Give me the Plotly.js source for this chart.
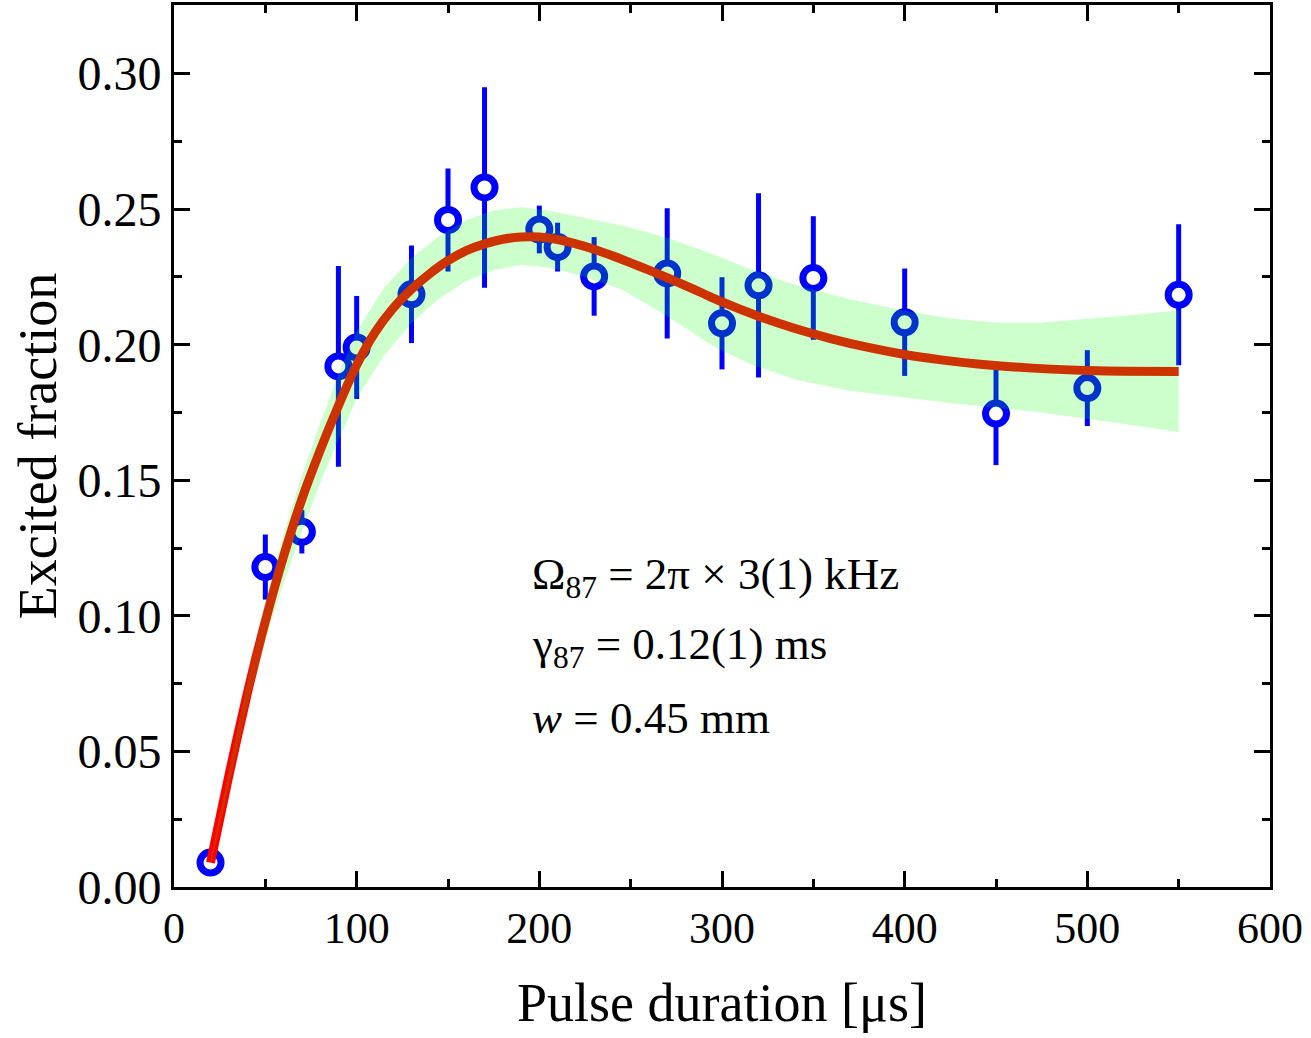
<!DOCTYPE html>
<html>
<head>
<meta charset="utf-8">
<script src="https://cdn.plot.ly/plotly-3.0.1.min.js"></script>
<style>
  html, body { margin: 0; padding: 0; background: #fff; }
  #chart { width: 1311px; height: 1038px; }
</style>
</head>
<body>
<div id="chart"></div>
<script>
// Measured excited fraction vs. pulse duration
const pulseUs = [20, 50, 70, 90, 100, 130, 150, 170, 200, 210, 230, 270, 300, 320, 350, 400, 450, 500, 550];
const excited = [0.009, 0.118, 0.131, 0.192, 0.199, 0.2186, 0.246, 0.258, 0.2425, 0.236, 0.2252, 0.2263, 0.2079, 0.2219, 0.2246, 0.2083, 0.1746, 0.184, 0.2184];
const excitedErr = [0.002, 0.012, 0.008, 0.037, 0.019, 0.018, 0.019, 0.037, 0.0088, 0.009, 0.0145, 0.024, 0.017, 0.034, 0.0228, 0.0198, 0.019, 0.014, 0.026];

// Fitted model curve
const fitX = [20, 30, 40, 50, 60, 70, 80, 90, 100, 110, 120, 130, 140, 150, 160, 170, 180, 190, 200, 210, 220, 230, 240, 250, 260, 270, 280, 290, 300, 320, 340, 360, 380, 400, 420, 440, 460, 480, 500, 520, 550];
const fitY = [0.009, 0.041, 0.071, 0.098, 0.122, 0.143, 0.161, 0.1775, 0.1925, 0.2045, 0.2135, 0.2205, 0.2262, 0.2310, 0.2347, 0.2372, 0.2389, 0.2397, 0.2397, 0.2388, 0.2372, 0.2352, 0.2328, 0.2302, 0.2275, 0.2247, 0.2218, 0.2188, 0.2158, 0.2105, 0.2060, 0.2022, 0.1990, 0.1964, 0.1944, 0.1929, 0.1918, 0.1910, 0.1905, 0.1902, 0.1901];

// Confidence band of the fit
const bandX = [20, 30, 40, 50, 60, 70, 80, 90, 100, 115, 130, 145, 160, 175, 190, 205, 220, 245, 270, 295, 315, 340, 370, 400, 425, 450, 475, 500, 525, 550];
const bandUpper = [0.010, 0.043, 0.076, 0.105, 0.130, 0.152, 0.171, 0.189, 0.205, 0.221, 0.232, 0.240, 0.246, 0.2495, 0.2507, 0.2495, 0.2475, 0.244, 0.2395, 0.2335, 0.2280, 0.2220, 0.2168, 0.2125, 0.2097, 0.2082, 0.2082, 0.2095, 0.2110, 0.2127];
const bandLower = [0.008, 0.037, 0.066, 0.091, 0.112, 0.131, 0.149, 0.165, 0.180, 0.196, 0.208, 0.217, 0.2235, 0.2275, 0.2295, 0.2285, 0.2260, 0.2205, 0.2105, 0.1995, 0.1930, 0.1872, 0.1830, 0.1805, 0.1785, 0.1768, 0.1750, 0.1727, 0.1703, 0.1678];

// Fit parameters shown inside the plot
const paramLines = [
  'Ω<sub>87</sub> = 2π × 3(1) kHz',
  'γ<sub>87</sub> = 0.12(1) ms',
  '<i>w</i> = 0.45 mm'
];
const paramY = [0.1145, 0.0885, 0.0625];

const serif = 'Liberation Serif, Times New Roman, serif';

const dataTrace = {
  x: pulseUs, y: excited,
  type: 'scatter', mode: 'markers',
  error_y: { type: 'data', array: excitedErr, visible: true, color: '#0000ff', thickness: 5, width: 0 },
  marker: { symbol: 'circle', size: 21, color: '#ffffff', line: { color: '#0000ff', width: 7 } },
  hoverinfo: 'x+y'
};

const fitTrace = {
  x: fitX, y: fitY,
  type: 'scatter', mode: 'lines',
  line: { color: '#ff0000', width: 9, shape: 'spline', smoothing: 0.8 },
  hoverinfo: 'skip'
};

const bandTrace = {
  x: bandX.concat(bandX.slice().reverse()),
  y: bandUpper.concat(bandLower.slice().reverse()),
  type: 'scatter', mode: 'lines',
  fill: 'toself', fillcolor: 'rgba(0,255,0,0.2)',
  line: { width: 0 },
  hoverinfo: 'skip'
};

const axisCommon = {
  showline: true, linecolor: '#000', linewidth: 3, mirror: 'ticks',
  ticks: 'inside', ticklen: 16, tickwidth: 3, tickcolor: '#000',
  showgrid: false, zeroline: false
};

const layout = {
  width: 1311, height: 1038,
  margin: { l: 174, r: 41, t: 5, b: 151 },
  paper_bgcolor: '#fff', plot_bgcolor: '#fff',
  showlegend: false,
  font: { family: serif, color: '#000' },
  xaxis: Object.assign({}, axisCommon, {
    range: [0, 600], dtick: 100, tick0: 0,
    tickfont: { family: serif, size: 44, color: '#000' },
    minor: { dtick: 50, ticks: 'inside', ticklen: 8, tickwidth: 3, tickcolor: '#000' },
    title: { text: 'Pulse duration [μs]', font: { family: serif, size: 54, color: '#000' }, standoff: 32 }
  }),
  yaxis: Object.assign({}, axisCommon, {
    range: [0, 0.3253], dtick: 0.05, tick0: 0, tickformat: '.2f',
    tickfont: { family: serif, size: 48, color: '#000' },
    minor: { dtick: 0.025, ticks: 'inside', ticklen: 8, tickwidth: 3, tickcolor: '#000' },
    title: { text: 'Excited fraction', font: { family: serif, size: 54, color: '#000' }, standoff: 4 }
  }),
  annotations: paramLines.map((t, i) => ({
    x: 195, y: paramY[i], xref: 'x', yref: 'y',
    xanchor: 'left', yanchor: 'middle', align: 'left', showarrow: false,
    text: t, font: { family: serif, size: 45, color: '#000' }
  }))
};

Plotly.newPlot('chart', [dataTrace, fitTrace, bandTrace], layout, { displayModeBar: false, staticPlot: true });
</script>
</body>
</html>
